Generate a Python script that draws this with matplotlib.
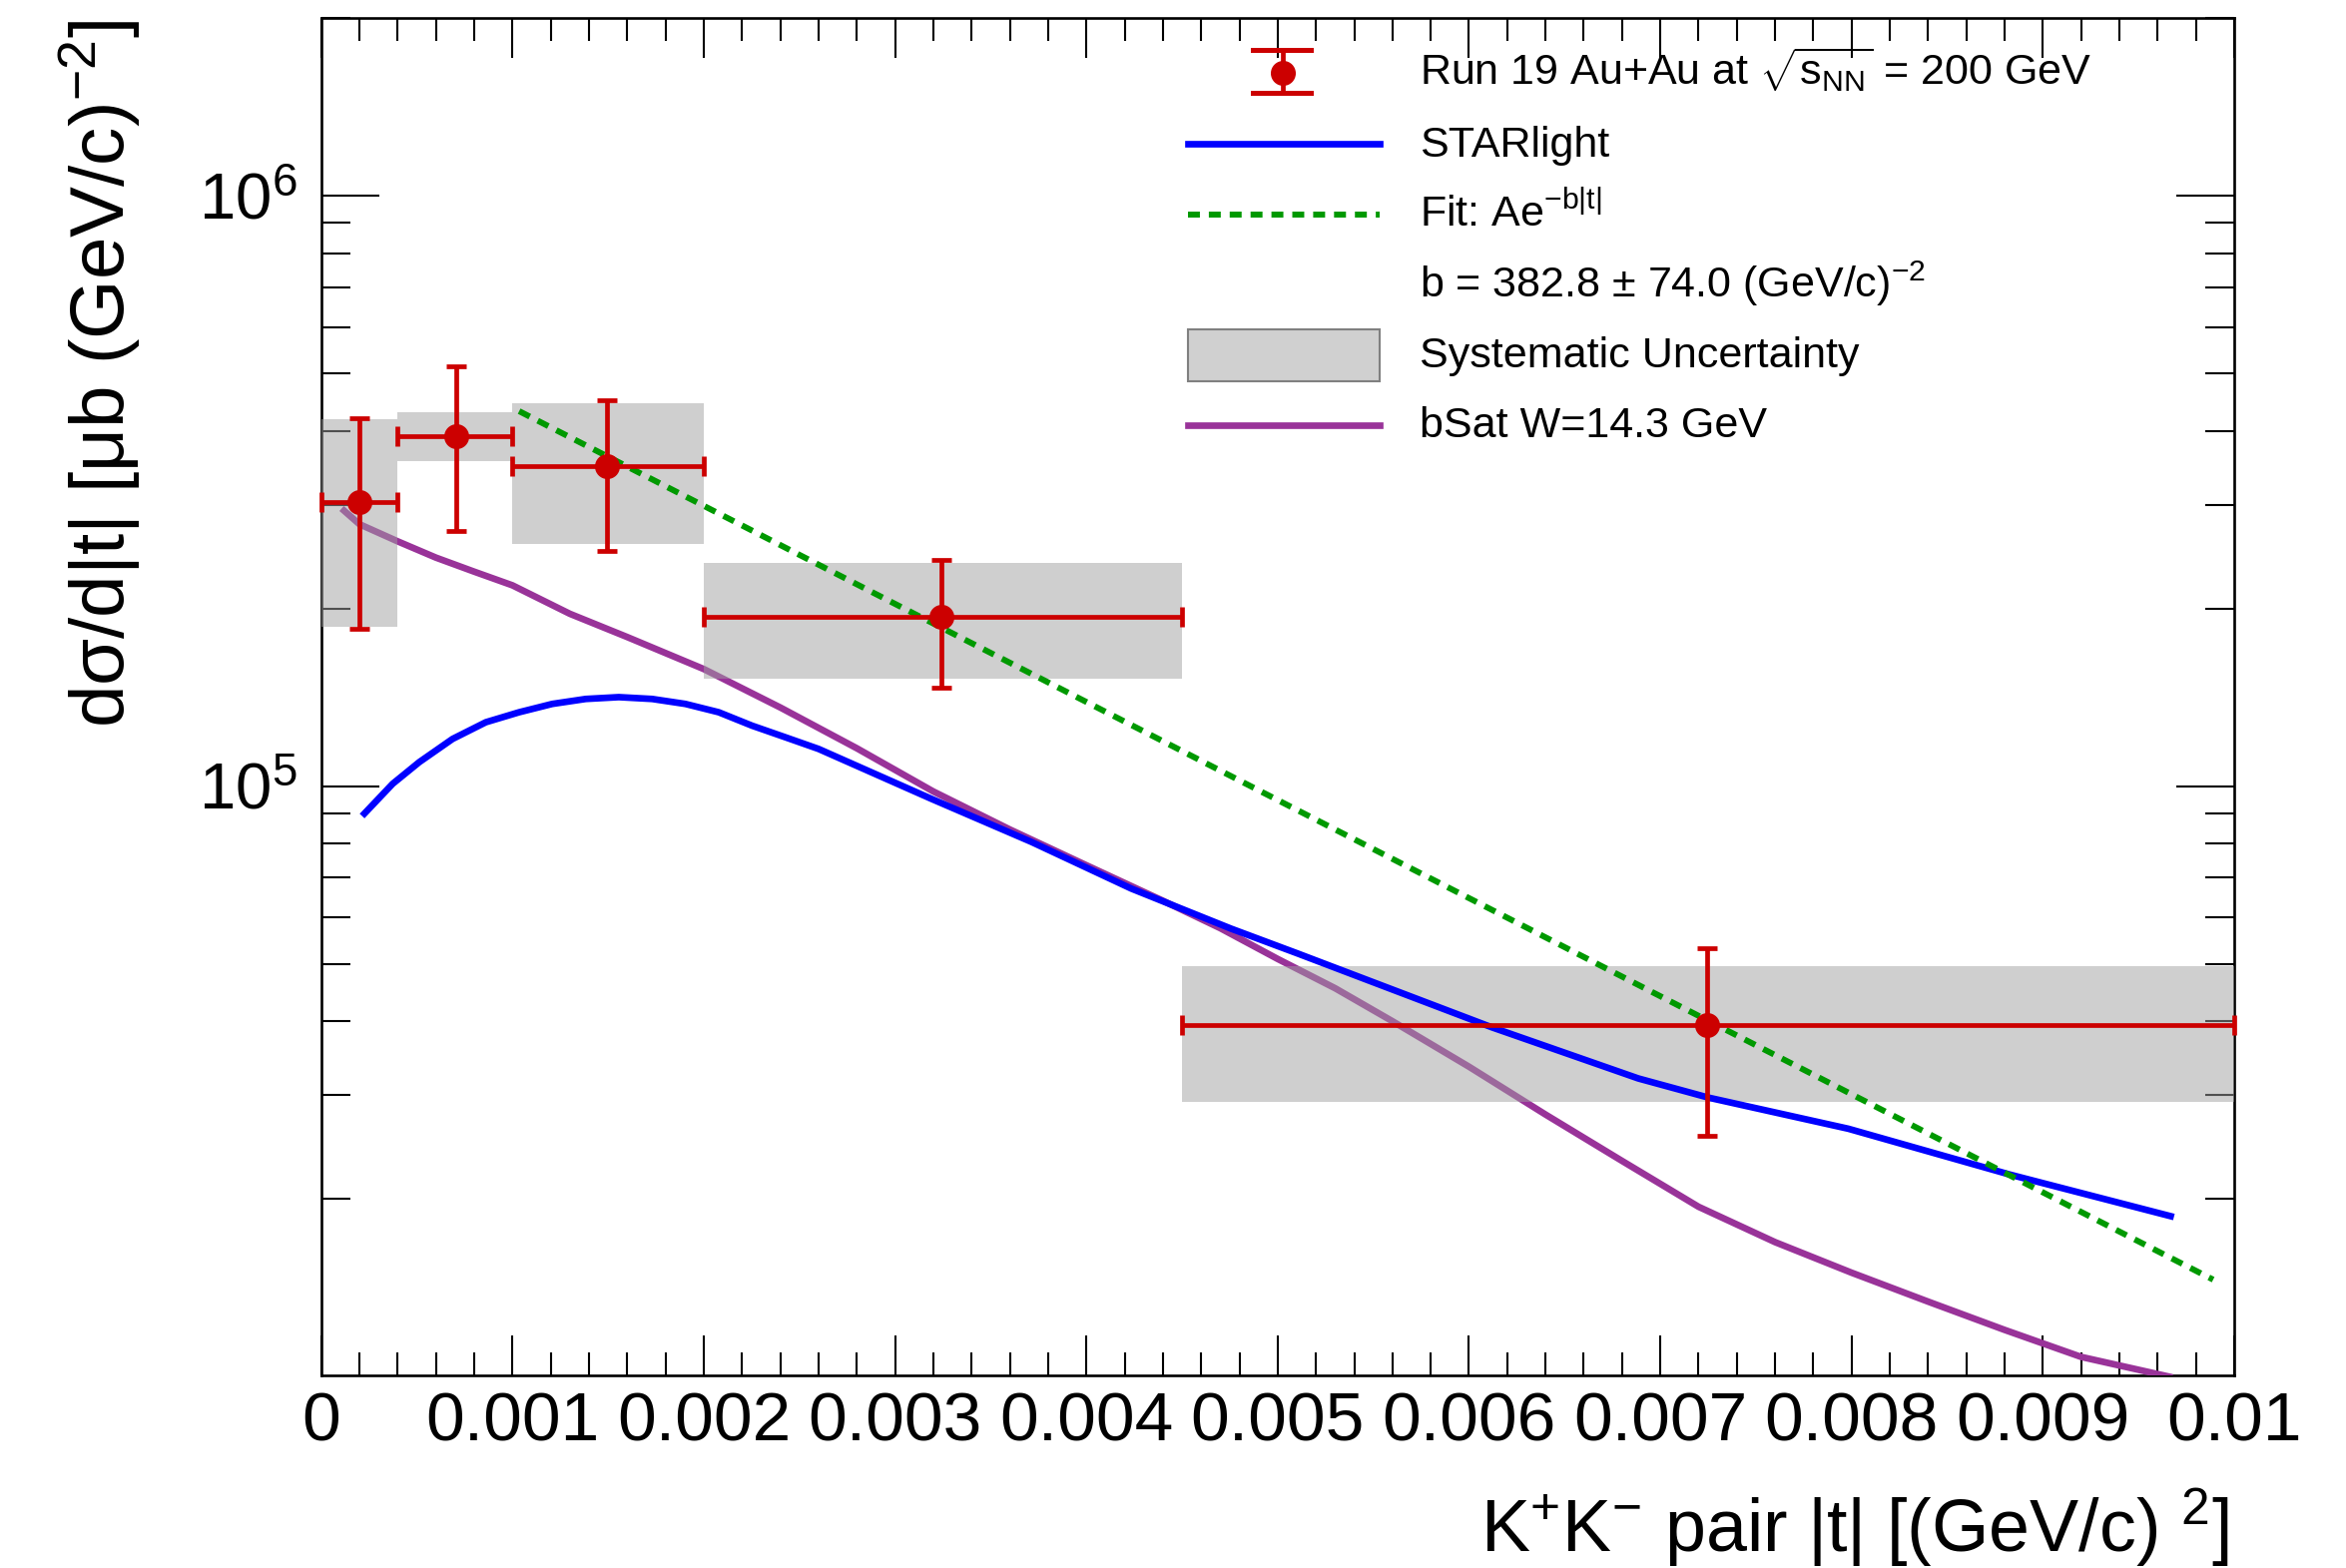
import numpy as np
import matplotlib
matplotlib.use('Agg')
import matplotlib.pyplot as plt
from matplotlib.ticker import MultipleLocator, LogLocator, NullFormatter, FuncFormatter
from matplotlib.patches import Rectangle
from matplotlib.lines import Line2D

# ---------------- data ----------------
t_center = [0.000199, 0.000705, 0.001496, 0.003243, 0.007244]
t_low    = [0.0, 0.0004, 0.001, 0.002, 0.0045]
t_high   = [0.0004, 0.001, 0.002, 0.0045, 0.01]
dsdt     = [3.03e5, 3.92e5, 3.48e5, 1.94e5, 3.94e4]
stat_hi  = [4.20e5, 5.14e5, 4.51e5, 2.42e5, 5.31e4]
stat_lo  = [1.85e5, 2.71e5, 2.50e5, 1.47e5, 2.56e4]
sys_hi   = [4.19e5, 4.31e5, 4.46e5, 2.39e5, 4.95e4]
sys_lo   = [1.86e5, 3.56e5, 2.57e5, 1.52e5, 2.92e4]

star_t = [0.000226, 0.000374, 0.000513, 0.000687, 0.000861, 0.001035, 0.001208,
          0.001383, 0.001556, 0.00173, 0.001904, 0.002078, 0.002252, 0.002426,
          0.0026, 0.003191, 0.003713, 0.004235, 0.004756, 0.005104, 0.006116,
          0.006885, 0.007251, 0.007983, 0.008826, 0.009668]
star_y = [8.99e4, 1.01e5, 1.099e5, 1.203e5, 1.284e5, 1.335e5, 1.379e5,
          1.406e5, 1.416e5, 1.406e5, 1.379e5, 1.335e5, 1.267e5, 1.211e5,
          1.157e5, 9.52e4, 8.05e4, 6.71e4, 5.74e4, 5.21e4, 3.91e4,
          3.20e4, 2.97e4, 2.63e4, 2.20e4, 1.87e4]

bsat_t = [0.00012, 0.0002, 0.0004, 0.0006, 0.0008, 0.001, 0.0013, 0.0016, 0.002,
          0.0024, 0.0028, 0.0032, 0.0036, 0.004, 0.0044, 0.0047, 0.005, 0.0053,
          0.0056, 0.006, 0.0064, 0.0068, 0.0072, 0.0076, 0.008, 0.0084, 0.0088,
          0.0092, 0.00966]
bsat_y = [2.93e5, 2.78e5, 2.60e5, 2.44e5, 2.31e5, 2.19e5, 1.96e5, 1.79e5, 1.58e5,
          1.36e5, 1.16e5, 9.8e4, 8.45e4, 7.35e4, 6.4e4, 5.75e4, 5.1e4, 4.55e4,
          4.0e4, 3.35e4, 2.78e4, 2.32e4, 1.94e4, 1.69e4, 1.50e4, 1.34e4, 1.20e4,
          1.08e4, 1.0e4]

fit_t = [0.001035, 0.00989]
fit_y = [4.32e5, 1.46e4]

legend_labels = [r"Run 19 Au+Au at $\sqrt{\mathrm{s}_{\mathrm{NN}}}$ = 200 GeV",
                 "STARlight",
                 r"Fit: Ae$^{\mathrm{-b|t|}}$",
                 r"b = 382.8 $\pm$ 74.0 (GeV/c)$^{\mathrm{-2}}$",
                 "Systematic Uncertainty",
                 "bSat W=14.3 GeV"]

# ---------------- style ----------------
W, H, DPI = 2350, 1571, 100
plt.rcParams['font.family'] = ['Liberation Sans', 'DejaVu Sans']
plt.rcParams['mathtext.fontset'] = 'custom'
plt.rcParams['mathtext.rm'] = 'Liberation Sans'
plt.rcParams['mathtext.it'] = 'Liberation Sans:italic'
plt.rcParams['mathtext.bf'] = 'Liberation Sans:bold'
plt.rcParams['mathtext.sf'] = 'Liberation Sans'

RED = '#cc0000'
BLUE = '#0000ff'
GREEN = '#009900'
PURPLE = '#993399'


def fx(px):
    return px / W


def fy(py):
    return 1 - py / H


fig = plt.figure(figsize=(W / DPI, H / DPI), dpi=DPI)
fig.patch.set_facecolor('white')
ax = fig.add_axes([fx(321.7), fy(1378), fx(2238) - fx(321.7), fy(18.3) - fy(1378)])
ax.set_yscale('log')
ax.set_xlim(0, 0.01)
ax.set_ylim(1.005e4, 2.0e6)

# curves & boxes
ax.plot(bsat_t, bsat_y, color=PURPLE, lw=4.8, zorder=2.6)
for lo, hi, dn, up in zip(t_low, t_high, sys_lo, sys_hi):
    ax.add_patch(Rectangle((lo, dn), hi - lo, up - dn, facecolor='#a0a0a0',
                           alpha=0.5, edgecolor='none', zorder=2.7))
ax.plot(star_t, star_y, color=BLUE, lw=4.8, zorder=3)
ax.plot(fit_t, fit_y, color=GREEN, lw=4.3, dashes=(2.0, 1.5), zorder=3.2)

tc = np.array(t_center)
yv = np.array(dsdt)
xerr = [tc - np.array(t_low), np.array(t_high) - tc]
yerr = [yv - np.array(stat_lo), np.array(stat_hi) - yv]
eb = ax.errorbar(t_center, dsdt, xerr=xerr, yerr=yerr, fmt='o', color=RED,
                 ms=17, elinewidth=3.4, capsize=7.2, capthick=3.4, zorder=4)
for part in eb.lines:
    if part is None:
        continue
    if isinstance(part, (tuple, list)):
        for a in part:
            a.set_clip_on(False)
    else:
        part.set_clip_on(False)

# ticks
ax.xaxis.set_major_locator(MultipleLocator(0.001))
ax.xaxis.set_minor_locator(MultipleLocator(0.0002))
ax.xaxis.set_major_formatter(FuncFormatter(
    lambda v, p: '0' if abs(v) < 1e-12 else ('%.3f' % v).rstrip('0')))
ax.yaxis.set_major_locator(LogLocator(base=10))
ax.yaxis.set_minor_locator(LogLocator(base=10, subs=np.arange(2, 10)))
ax.yaxis.set_minor_formatter(NullFormatter())

ax.tick_params(which='both', direction='in', top=True, right=True, width=1.5,
               color='black')
ax.tick_params(axis='x', which='major', length=28.8, pad=11.5, labelsize=50)
ax.tick_params(axis='x', which='minor', length=16.5)
ax.tick_params(axis='y', which='major', length=41.8, pad=17, labelsize=47)
ax.tick_params(axis='y', which='minor', length=21)
for s in ax.spines.values():
    s.set_linewidth(1.9)

# axis titles
fig.text(fx(125), fy(20), r'd$\mathrm{\sigma}$/d|t| [$\mathrm{\mu}$b (GeV/c)$^{\mathrm{-2}}$]',
         rotation=90, rotation_mode='anchor', ha='right', va='baseline', fontsize=55)
fig.text(fx(2233), fy(1555), r'K$^{+}$K$^{-}$ pair |t| [(GeV/c) $^{2}$]',
         ha='right', va='baseline', fontsize=53)

# legend (manual)
TX = 1422
baselines = [85, 156.7, 226.7, 298.3, 368.3, 438.3]
for lab, b in zip(legend_labels, baselines):
    fig.text(fx(TX), fy(b), lab, ha='left', va='baseline', fontsize=31)

L0, L1 = 1190, 1381.5
# data entry
mx = 1284.7
fig.add_artist(Line2D([fx(mx), fx(mx)], [fy(50), fy(93.3)], color=RED, lw=3.4))
for yy in (50, 93.3):
    fig.add_artist(Line2D([fx(1255), fx(1313)], [fy(yy), fy(yy)], color=RED, lw=3.6))
fig.add_artist(Line2D([fx(mx)], [fy(73.3)], color=RED, marker='o', ms=17, lw=0))
# STARlight
fig.add_artist(Line2D([fx(L0), fx(L1)], [fy(144), fy(144)], color=BLUE, lw=4.8))
# fit
fig.add_artist(Line2D([fx(L0), fx(L1)], [fy(215), fy(215)], color=GREEN, lw=4.3,
                      dashes=(2.0, 1.5)))
# sys box
fig.add_artist(Rectangle((fx(L0), fy(381.7)), fx(L1) - fx(L0), fy(330) - fy(381.7),
                         transform=fig.transFigure, facecolor='#d0d0d0',
                         edgecolor='#808080', lw=1.5))
# bSat
fig.add_artist(Line2D([fx(L0), fx(L1)], [fy(425.7), fy(425.7)], color=PURPLE, lw=4.8))

fig.savefig('out.png', dpi=DPI)
